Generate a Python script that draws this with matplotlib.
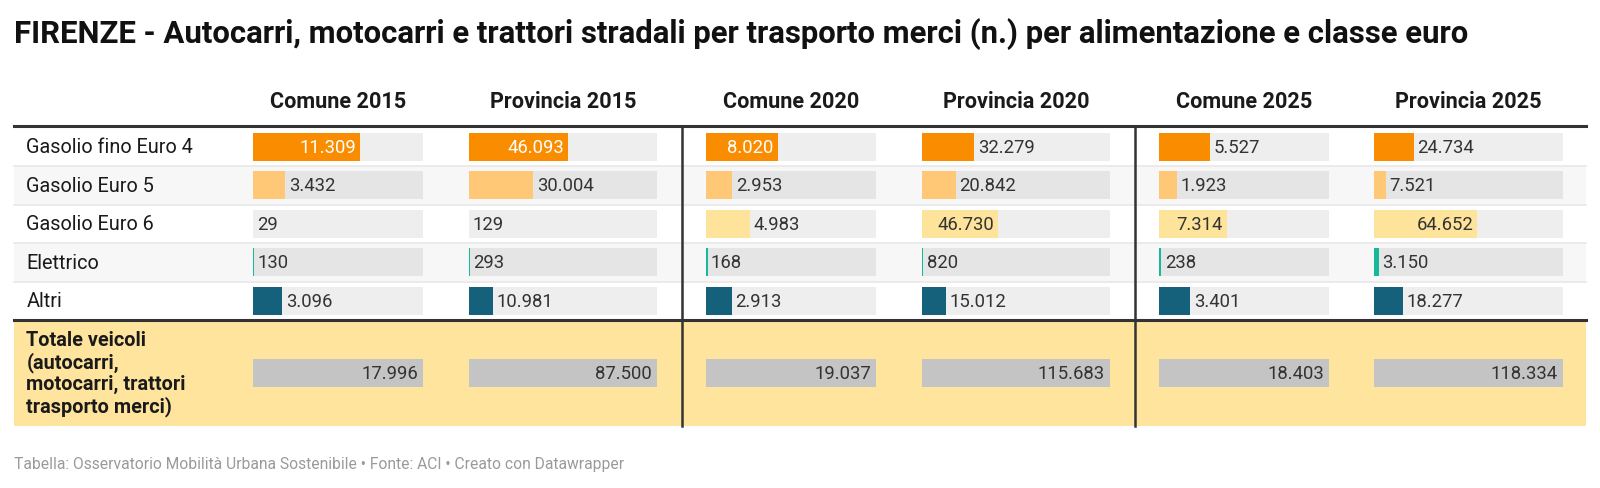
import matplotlib.pyplot as plt

plt.rcParams['font.family'] = ['Roboto', 'DejaVu Sans']

# dati (n. veicoli)
categories = ["Gasolio fino Euro 4", "Gasolio Euro 5", "Gasolio Euro 6", "Elettrico", "Altri"]
columns = ["Comune 2015", "Provincia 2015", "Comune 2020", "Provincia 2020", "Comune 2025", "Provincia 2025"]
comune_2015 = [11309, 3432, 29, 130, 3096]
provincia_2015 = [46093, 30004, 129, 293, 10981]
comune_2020 = [8020, 2953, 4983, 168, 2913]
provincia_2020 = [32279, 20842, 46730, 820, 15012]
comune_2025 = [5527, 1923, 7314, 238, 3401]
provincia_2025 = [24734, 7521, 64652, 3150, 18277]
totals = [17996, 87500, 19037, 115683, 18403, 118334]
total_label = "Totale veicoli\n(autocarri,\nmotocarri, trattori\ntrasporto merci)"

title = "FIRENZE - Autocarri, motocarri e trattori stradali per trasporto merci (n.) per alimentazione e classe euro"
footer = "Tabella: Osservatorio Mobilità Urbana Sostenibile • Fonte: ACI • Creato con Datawrapper"

series = [comune_2015, provincia_2015, comune_2020, provincia_2020, comune_2025, provincia_2025]
bar_colors = ["#fa8c00", "#fec877", "#fee49b", "#15b99a", "#15607a"]
text_colors = ["white", "#333333", "#333333", "#333333", "#333333"]

W, H = 1600, 489
fig = plt.figure(figsize=(W / 100, H / 100), dpi=100)
ax = fig.add_axes([0, 0, 1, 1])
ax.set_xlim(0, W)
ax.set_ylim(H, 0)
ax.axis("off")

# layout in pixel
left, right = 14, 1586
table_top = 128.5
row_h = 38.5
rows_bottom = table_top + row_h * len(categories)
table_bottom = 427
col_x = [253, 469, 706, 922, 1159, 1374]
col_w = [170, 188, 170, 188, 170, 189]
sep_x = [682, 1135]

def fmt(v):
    return f"{v:,}".replace(",", ".")

ax.text(left, 43, title, fontsize=22.4, fontweight="bold", color="#111111", va="baseline")

for name, x0, w in zip(columns, col_x, col_w):
    ax.text(x0 + w / 2, 102, name, fontsize=15.6, fontweight="bold", color="#1a1a1a",
            ha="center", va="center")

# sfondi righe
for i, cat in enumerate(categories):
    y0 = table_top + i * row_h
    if i % 2 == 1:
        ax.axhspan(y0, y0 + row_h, xmin=left / W, xmax=right / W, color="#f7f7f7", lw=0, zorder=0)
    if i > 0:
        ax.plot([left, right], [y0, y0], color="#e8e8e8", lw=1.2, zorder=1)
    ax.text(26.5, y0 + row_h / 2, cat, fontsize=14.3, color="#1a1a1a", va="center")

ax.axhspan(rows_bottom, table_bottom, xmin=left / W, xmax=right / W, color="#fee49c", lw=0, zorder=0)
ax.text(26.5, (rows_bottom + table_bottom) / 2, total_label, fontsize=14.3, fontweight="bold",
        color="#1a1a1a", va="center", linespacing=1.13)

ax.plot([left, right], [table_top - 1.5, table_top - 1.5], color="#333333", lw=2.2, zorder=3)
ax.plot([left, right], [rows_bottom, rows_bottom], color="#333333", lw=2.2, zorder=3)
for sx in sep_x:
    ax.plot([sx, sx], [table_top - 1.5, table_bottom], color="#333333", lw=1.8, zorder=3)

ax.text(left, 464, footer, fontsize=11.25, color="#9a9a9a", va="center")

# barre per colonna, scala 0..totale
row_centers = [table_top + row_h * (i + 0.5) for i in range(len(categories))]
total_center = (rows_bottom + table_bottom) / 2
for vals, tot, x0, w in zip(series, totals, col_x, col_w):
    cax = fig.add_axes([x0 / W, 1 - table_bottom / H, w / W, (table_bottom - table_top) / H])
    cax.set_xlim(0, tot)
    cax.set_ylim(table_bottom, table_top)
    cax.axis("off")
    cax.patch.set_alpha(0)
    for i, v in enumerate(vals):
        bg = "#eeeeee" if i % 2 == 0 else "#e5e5e5"
        cax.barh(row_centers[i], tot, height=28, color=bg, lw=0)
        cax.barh(row_centers[i], v, height=28, color=bar_colors[i], lw=0)
        if v / tot >= 0.38:
            cax.annotate(fmt(v), (v, row_centers[i]), xytext=(-2.8, 0), textcoords="offset points",
                         ha="right", va="center", fontsize=13.3, color=text_colors[i])
        else:
            cax.annotate(fmt(v), (v, row_centers[i]), xytext=(2.5, 0), textcoords="offset points",
                         ha="left", va="center", fontsize=13.3, color="#333333")
    cax.barh(total_center, tot, height=28, color="#c4c4c4", lw=0)
    cax.annotate(fmt(tot), (tot, total_center), xytext=(-3.6, 0), textcoords="offset points",
                 ha="right", va="center", fontsize=13.3, color="#333333")

fig.savefig("out.png", dpi=100)
